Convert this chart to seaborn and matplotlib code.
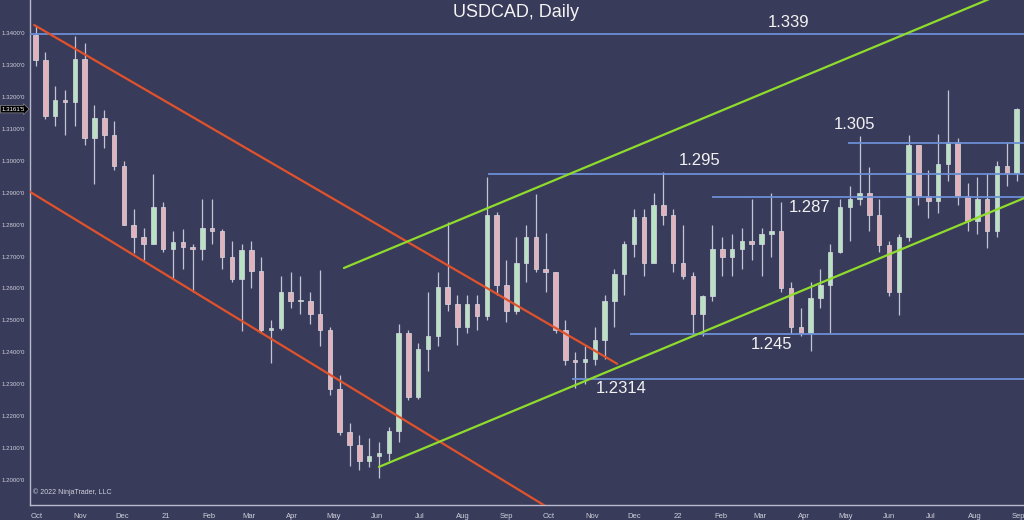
import matplotlib
matplotlib.use('Agg')
import numpy as np
import pandas as pd
import seaborn as sns
import matplotlib.pyplot as plt
import matplotlib.dates as mdates
import matplotlib.transforms as mtransforms

# weekly candles (week starting Monday)
week_start = pd.date_range('2020-09-28', periods=101, freq='W-MON')
opens = [1.3395, 1.3317, 1.3140, 1.3190, 1.3185, 1.3320, 1.3070, 1.3135, 1.3080, 1.2985,
         1.2800, 1.2760, 1.2740, 1.2855, 1.2725, 1.2745, 1.2730, 1.2725, 1.2790, 1.2780,
         1.2700, 1.2630, 1.2720, 1.2655, 1.2470, 1.2475, 1.2590, 1.2560, 1.2560, 1.2520,
         1.2470, 1.2285, 1.2150, 1.2110, 1.2060, 1.2075, 1.2085, 1.2155, 1.2460, 1.2260,
         1.2410, 1.2450, 1.2605, 1.2550, 1.2480, 1.2550, 1.2515, 1.2830, 1.2610, 1.2530,
         1.2680, 1.2760, 1.2660, 1.2650, 1.2470, 1.2375, 1.2370, 1.2380, 1.2440, 1.2560,
         1.2645, 1.2740, 1.2825, 1.2680, 1.2860, 1.2830, 1.2680, 1.2640, 1.2520, 1.2575,
         1.2725, 1.2700, 1.2725, 1.2750, 1.2740, 1.2770, 1.2780, 1.2600, 1.2480, 1.2460,
         1.2570, 1.2610, 1.2715, 1.2855, 1.2880, 1.2900, 1.2830, 1.2735, 1.2590, 1.2760,
         1.3050, 1.2890, 1.2875, 1.2990, 1.3060, 1.2890, 1.2810, 1.2880, 1.2780, 1.2985,
         1.2960]
highs = [1.3421, 1.3340, 1.3235, 1.3220, 1.3390, 1.3370, 1.3175, 1.3160, 1.3125, 1.3000,
         1.2850, 1.2790, 1.2957, 1.2870, 1.2780, 1.2785, 1.2740, 1.2880, 1.2880, 1.2785,
         1.2750, 1.2740, 1.2750, 1.2700, 1.2500, 1.2640, 1.2650, 1.2640, 1.2590, 1.2658,
         1.2480, 1.2330, 1.2180, 1.2140, 1.2130, 1.2120, 1.2165, 1.2490, 1.2470, 1.2430,
         1.2590, 1.2650, 1.2807, 1.2580, 1.2580, 1.2580, 1.2949, 1.2840, 1.2690, 1.2760,
         1.2800, 1.2896, 1.2775, 1.2650, 1.2500, 1.2400, 1.2420, 1.2480, 1.2580, 1.2660,
         1.2750, 1.2850, 1.2850, 1.2900, 1.2964, 1.2850, 1.2800, 1.2650, 1.2580, 1.2800,
         1.2760, 1.2770, 1.2790, 1.2880, 1.2790, 1.2900, 1.2870, 1.2620, 1.2540, 1.2620,
         1.2660, 1.2740, 1.2880, 1.2920, 1.3077, 1.2980, 1.2880, 1.2750, 1.2770, 1.3080,
         1.3050, 1.2970, 1.3085, 1.3223, 1.3070, 1.2930, 1.2950, 1.2960, 1.3000, 1.3060,
         1.3165]
lows = [1.3297, 1.3130, 1.3110, 1.3081, 1.3110, 1.3050, 1.2928, 1.3040, 1.2970, 1.2800,
        1.2710, 1.2690, 1.2740, 1.2715, 1.2630, 1.2660, 1.2589, 1.2690, 1.2740, 1.2660,
        1.2620, 1.2468, 1.2600, 1.2460, 1.2365, 1.2470, 1.2540, 1.2520, 1.2490, 1.2420,
        1.2265, 1.2140, 1.2045, 1.2030, 1.2040, 1.2007, 1.2060, 1.2120, 1.2250, 1.2255,
        1.2340, 1.2420, 1.2530, 1.2422, 1.2460, 1.2470, 1.2500, 1.2580, 1.2494, 1.2520,
        1.2620, 1.2650, 1.2590, 1.2460, 1.2360, 1.2288, 1.2300, 1.2360, 1.2380, 1.2480,
        1.2580, 1.2700, 1.2640, 1.2680, 1.2800, 1.2650, 1.2630, 1.2450, 1.2451, 1.2560,
        1.2640, 1.2640, 1.2660, 1.2690, 1.2640, 1.2700, 1.2590, 1.2460, 1.2450, 1.2403,
        1.2540, 1.2460, 1.2710, 1.2750, 1.2860, 1.2780, 1.2715, 1.2575, 1.2518, 1.2750,
        1.2860, 1.2820, 1.2835, 1.2935, 1.2860, 1.2780, 1.2770, 1.2727, 1.2760, 1.2920,
        1.2935]
closes = [1.3317, 1.3140, 1.3190, 1.3185, 1.3320, 1.3070, 1.3135, 1.3080, 1.2985, 1.2800,
          1.2760, 1.2740, 1.2855, 1.2725, 1.2745, 1.2730, 1.2725, 1.2790, 1.2780, 1.2700,
          1.2630, 1.2720, 1.2655, 1.2470, 1.2475, 1.2590, 1.2560, 1.2560, 1.2520, 1.2470,
          1.2285, 1.2150, 1.2110, 1.2060, 1.2075, 1.2085, 1.2155, 1.2460, 1.2260, 1.2410,
          1.2450, 1.2605, 1.2550, 1.2480, 1.2550, 1.2515, 1.2830, 1.2610, 1.2530, 1.2680,
          1.2760, 1.2660, 1.2650, 1.2470, 1.2375, 1.2370, 1.2380, 1.2440, 1.2560, 1.2645,
          1.2740, 1.2825, 1.2680, 1.2860, 1.2830, 1.2680, 1.2640, 1.2520, 1.2575, 1.2725,
          1.2700, 1.2725, 1.2750, 1.2740, 1.2770, 1.2780, 1.2600, 1.2480, 1.2460, 1.2570,
          1.2610, 1.2715, 1.2855, 1.2880, 1.2900, 1.2830, 1.2735, 1.2590, 1.2760, 1.3050,
          1.2890, 1.2875, 1.2990, 1.3060, 1.2890, 1.2810, 1.2880, 1.2780, 1.2985, 1.2960,
          1.3161]
last_price = 1.31615

# horizontal support / resistance levels
level_values = [1.3397, 1.2958, 1.2885, 1.3056, 1.2457, 1.2316]
level_starts = ['2020-09-26', '2021-08-19', '2022-01-26', '2022-05-03', '2021-11-28', '2021-10-18']
level_texts = ['1.339', '1.295', '1.287', '1.305', '1.245', '1.2314']
level_text_dates = ['2022-03-21', '2022-01-17', '2022-04-05', '2022-05-07', '2022-03-09', '2021-11-22']
level_text_prices = [1.3434, 1.3002, 1.2852, 1.3112, 1.2423, 1.2288]

# trend channels (start date, end date, start price, end price)
red_dates = [['2020-09-29', '2021-11-19'], ['2020-09-24', '2021-10-15']]
red_prices = [[1.3425, 1.2364], [1.2908, 1.1875]]
green_dates = [['2021-05-08', '2022-08-20'], ['2021-06-02', '2022-09-06']]
green_prices = [[1.2664, 1.3522], [1.2041, 1.2884]]

bg = '#393b5a'
fg = '#cfd0dc'
sns.set_style('dark', rc={'axes.facecolor': bg, 'figure.facecolor': bg,
                          'axes.edgecolor': '#b9bacb', 'text.color': fg,
                          'xtick.color': fg, 'ytick.color': fg})
plt.rcParams['font.family'] = ['Liberation Sans', 'DejaVu Sans']

df = pd.DataFrame({'week': week_start, 'open': opens, 'high': highs,
                   'low': lows, 'close': closes})
df['mid'] = df['week'] + pd.Timedelta(days=2)
df['up'] = df['close'] >= df['open']

fig = plt.figure(figsize=(10.24, 5.2), dpi=100)
ax = fig.add_axes([30 / 1024, 15 / 520, 994 / 1024, 505 / 520])

x = mdates.date2num(df['mid'])
ax.vlines(x, df['low'], df['high'], color='#c3c4d4', lw=0.9, zorder=2)
body_bottom = np.minimum(df['open'], df['close'])
body_height = np.maximum(np.abs(df['close'] - df['open']), 0.0004)
body_colors = np.where(df['up'], '#b9e2c2', '#e2b3bd')
ax.bar(x, body_height, bottom=body_bottom, width=3.2, color=body_colors,
       edgecolor='#d9d9e3', linewidth=0.5, zorder=3)

# levels
for val, start in zip(level_values, level_starts):
    ax.hlines(val, mdates.date2num(pd.Timestamp(start)), mdates.date2num(pd.Timestamp('2022-09-10')),
              color='#6b8fd6', lw=1.3, zorder=4)
for txt, d, p in zip(level_texts, level_text_dates, level_text_prices):
    ax.text(mdates.date2num(pd.Timestamp(d)), p, txt, ha='center', va='center',
            fontsize=12, color='#f2f2f2', zorder=6)

for ds, ps in zip(red_dates, red_prices):
    ax.plot(mdates.date2num(pd.to_datetime(ds)), ps, color='#e0522b', lw=1.6, zorder=4)
for ds, ps in zip(green_dates, green_prices):
    ax.plot(mdates.date2num(pd.to_datetime(ds)), ps, color='#8fdc2c', lw=1.6, zorder=4)

ax.set_xlim(mdates.date2num(pd.Timestamp('2020-09-26')),
            mdates.date2num(pd.Timestamp('2022-09-05 07:00')))
ax.set_ylim(1.19217, 1.35034)

yt = np.round(np.arange(1.20, 1.3401, 0.01), 2)
ax.set_yticks(yt)
ax.set_yticklabels([f"{v:.4f}'0" for v in yt])
months = pd.date_range('2020-10-01', '2022-09-01', freq='MS')
ax.set_xticks(mdates.date2num(months))
ax.set_xticklabels([m.strftime('%y') if m.month == 1 else m.strftime('%b') for m in months])
ax.tick_params(axis='both', which='major', labelsize=5.5, length=3, width=0.8,
               direction='out', pad=2, colors=fg)
ax.tick_params(axis='y', labelsize=4.4, length=2.5, pad=1)
ax.tick_params(axis='x', pad=3)
ax.grid(False)
for side in ['top', 'right']:
    ax.spines[side].set_visible(False)
for side in ['left', 'bottom']:
    ax.spines[side].set_color('#b9bacb')
    ax.spines[side].set_linewidth(1.0)

ax.text(0.489, 0.976, 'USDCAD, Daily', transform=ax.transAxes, ha='center', va='center',
        fontsize=13, color='#f4f4f4')
ax.text(0.003, 0.018, '\u00a9 2022 NinjaTrader, LLC', transform=ax.transAxes,
        fontsize=5, color=fg, va='bottom')

trans = mtransforms.blended_transform_factory(ax.transAxes, ax.transData)
ax.text(-0.005, last_price, "1.3161'5", transform=trans, ha='right', va='center',
        fontsize=4.4, color='white', zorder=7, clip_on=False,
        bbox=dict(boxstyle='rarrow,pad=0.2', fc='black', ec='#8a8a8a', lw=0.5))

fig.savefig('out.png', dpi=100, facecolor=bg)
